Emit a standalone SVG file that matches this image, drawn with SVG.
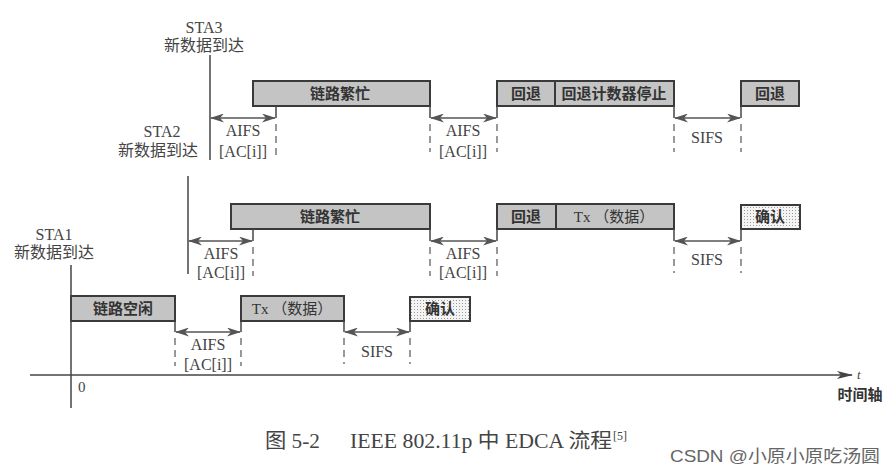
<svg xmlns="http://www.w3.org/2000/svg" width="895" height="475" viewBox="0 0 895 475">
<style>
.box{fill:#c4c4c4;stroke:#3a3a3a;stroke-width:2}
.ack{fill:url(#dots);stroke:#3a3a3a;stroke-width:2}
.bt{font-family:"Noto Sans CJK SC","Liberation Serif",serif;font-size:15px;font-weight:bold;fill:#333;text-anchor:middle}
.bt2{font-family:"Liberation Serif","Noto Sans CJK SC",serif;font-size:15px;fill:#333;text-anchor:middle}
.lbl{font-family:"Liberation Serif","Noto Sans CJK SC",serif;font-size:16px;fill:#444;text-anchor:middle}
.ln{stroke:#444;stroke-width:1.5;fill:none}
.dash{stroke:#555;stroke-width:1.2;stroke-dasharray:7,5;fill:none}
.arr{stroke:#555;stroke-width:1.4;fill:none;marker-start:url(#ah);marker-end:url(#ah)}
</style>
<defs>
<marker id="ah" viewBox="0 0 14 9" refX="13" refY="4.5" markerWidth="14" markerHeight="9" markerUnits="userSpaceOnUse" orient="auto-start-reverse">
<path d="M0,0 L14,4.5 L0,9 L4,4.5 Z" fill="#555"/>
</marker>
<marker id="ta" viewBox="0 0 16 8" refX="15" refY="4" markerWidth="16" markerHeight="8" markerUnits="userSpaceOnUse" orient="auto">
<path d="M0,0 L16,4 L0,8 L4,4 Z" fill="#444"/>
</marker>
<pattern id="dots" width="3" height="3" patternUnits="userSpaceOnUse">
<rect width="3" height="3" fill="#f4f4f4"/>
<rect width="1" height="1" fill="#9a9a9a"/>
</pattern>
</defs>
<rect width="895" height="475" fill="#ffffff"/>

<g id="sta3-label">
<text class="lbl" x="204" y="33">STA3</text>
<text class="lbl" x="204" y="51">新数据到达</text>
</g>
<g id="sta2-label">
<text class="lbl" x="162" y="137">STA2</text>
<text class="lbl" x="158" y="156">新数据到达</text>
</g>
<g id="sta1-label">
<text class="lbl" x="54" y="240">STA1</text>
<text class="lbl" x="54" y="258">新数据到达</text>
</g>

<g id="sta3-busy"><rect class="box" x="253" y="81" width="177" height="25"/><text class="bt" x="340" y="99">链路繁忙</text></g>
<g id="sta3-backoff1"><rect class="box" x="497" y="81" width="58" height="25"/><text class="bt" x="526" y="99">回退</text></g>
<g id="sta3-stop"><rect class="box" x="555" y="81" width="119" height="25"/><text class="bt" x="614" y="99">回退计数器停止</text></g>
<g id="sta3-backoff2"><rect class="box" x="741" y="81" width="58" height="25"/><text class="bt" x="770" y="99">回退</text></g>

<g id="sta2-busy"><rect class="box" x="231" y="204" width="199" height="25"/><text class="bt" x="330" y="222">链路繁忙</text></g>
<g id="sta2-backoff"><rect class="box" x="497" y="204" width="59" height="25"/><text class="bt" x="526" y="222">回退</text></g>
<g id="sta2-tx"><rect class="box" x="556" y="204" width="118" height="25"/><text class="bt2" x="614" y="222">Tx （数据）</text></g>
<g id="sta2-ack"><rect class="ack" x="741" y="205" width="59" height="24"/><text class="bt" x="770" y="222">确认</text></g>

<g id="sta1-idle"><rect class="box" x="71" y="296" width="104" height="25"/><text class="bt" x="123" y="314">链路空闲</text></g>
<g id="sta1-tx"><rect class="box" x="241" y="296" width="103" height="25"/><text class="bt2" x="292" y="314">Tx （数据）</text></g>
<g id="sta1-ack"><rect class="ack" x="410" y="297" width="60" height="24"/><text class="bt" x="440" y="314">确认</text></g>

<g id="connectors">
<line class="ln" x1="210" y1="55" x2="210" y2="160"/>
<line class="ln" x1="188" y1="176" x2="188" y2="274"/>
<line class="ln" x1="71" y1="265" x2="71" y2="408"/>
<line class="ln" x1="276" y1="106" x2="276" y2="118"/>
<line class="arr" x1="211" y1="118" x2="275" y2="118"/>
<line class="dash" x1="276" y1="124" x2="276" y2="156"/>
<line class="ln" x1="430" y1="106" x2="430" y2="118"/>
<line class="ln" x1="497" y1="106" x2="497" y2="118"/>
<line class="arr" x1="431" y1="118" x2="496" y2="118"/>
<line class="dash" x1="430" y1="124" x2="430" y2="152"/>
<line class="dash" x1="497" y1="124" x2="497" y2="152"/>
<line class="ln" x1="674" y1="106" x2="674" y2="118"/>
<line class="ln" x1="741" y1="106" x2="741" y2="118"/>
<line class="arr" x1="675" y1="118" x2="740" y2="118"/>
<line class="dash" x1="674" y1="124" x2="674" y2="152"/>
<line class="dash" x1="741" y1="124" x2="741" y2="152"/>
<line class="ln" x1="253" y1="229" x2="253" y2="241"/>
<line class="arr" x1="189" y1="241" x2="252" y2="241"/>
<line class="dash" x1="253" y1="247" x2="253" y2="276"/>
<line class="ln" x1="430" y1="229" x2="430" y2="241"/>
<line class="ln" x1="497" y1="229" x2="497" y2="241"/>
<line class="arr" x1="431" y1="241" x2="496" y2="241"/>
<line class="dash" x1="430" y1="247" x2="430" y2="276"/>
<line class="dash" x1="497" y1="247" x2="497" y2="276"/>
<line class="ln" x1="674" y1="229" x2="674" y2="241"/>
<line class="ln" x1="741" y1="229" x2="741" y2="241"/>
<line class="arr" x1="675" y1="241" x2="740" y2="241"/>
<line class="dash" x1="674" y1="247" x2="674" y2="273"/>
<line class="dash" x1="741" y1="247" x2="741" y2="273"/>
<line class="ln" x1="175" y1="321" x2="175" y2="332"/>
<line class="ln" x1="241" y1="321" x2="241" y2="332"/>
<line class="arr" x1="176" y1="332" x2="240" y2="332"/>
<line class="dash" x1="175" y1="338" x2="175" y2="366"/>
<line class="dash" x1="241" y1="338" x2="241" y2="366"/>
<line class="ln" x1="344" y1="321" x2="344" y2="332"/>
<line class="ln" x1="410" y1="321" x2="410" y2="332"/>
<line class="arr" x1="345" y1="332" x2="409" y2="332"/>
<line class="dash" x1="344" y1="338" x2="344" y2="364"/>
<line class="dash" x1="410" y1="338" x2="410" y2="364"/>
<line x1="30" y1="375" x2="852" y2="375" stroke="#444" stroke-width="1.5" marker-end="url(#ta)"/>
</g>

<g id="interval-labels">
<text class="lbl" x="243" y="136">AIFS</text>
<text class="lbl" x="243" y="157">[AC[i]]</text>
<text class="lbl" x="463" y="136">AIFS</text>
<text class="lbl" x="463" y="157">[AC[i]]</text>
<text class="lbl" x="707" y="143">SIFS</text>
<text class="lbl" x="221" y="259">AIFS</text>
<text class="lbl" x="221" y="278">[AC[i]]</text>
<text class="lbl" x="463" y="259">AIFS</text>
<text class="lbl" x="463" y="278">[AC[i]]</text>
<text class="lbl" x="707" y="265">SIFS</text>
<text class="lbl" x="208" y="350">AIFS</text>
<text class="lbl" x="208" y="370">[AC[i]]</text>
<text class="lbl" x="377" y="357">SIFS</text>
</g>

<g id="axis-labels">
<text x="78" y="392" font-family="Liberation Serif,serif" font-size="15" fill="#444">0</text>
<text x="857" y="379" font-family="Liberation Serif,serif" font-size="13" font-style="italic" fill="#444">t</text>
<text x="860" y="400" text-anchor="middle" font-family="Noto Sans CJK SC,sans-serif" font-size="15" font-weight="bold" fill="#333">时间轴</text>
</g>

<g id="caption">
<text x="265" y="448" font-family="Liberation Serif,Noto Sans CJK SC,serif" font-size="20" fill="#444" textLength="55" lengthAdjust="spacingAndGlyphs">图 5-2</text>
<text x="350" y="448" font-family="Liberation Serif,Noto Sans CJK SC,serif" font-size="20" fill="#444" textLength="262" lengthAdjust="spacingAndGlyphs">IEEE 802.11p 中 EDCA 流程</text>
<text x="613" y="440" font-family="Liberation Serif,serif" font-size="12" fill="#444">[5]</text>
<text x="670" y="462" font-family="Liberation Sans,Noto Sans CJK SC,sans-serif" font-size="17" fill="#666" textLength="210" lengthAdjust="spacingAndGlyphs">CSDN @小原小原吃汤圆</text>
</g>
</svg>
